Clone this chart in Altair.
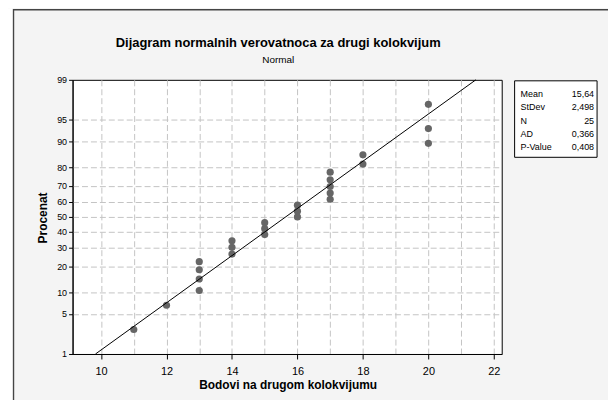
import altair as alt
import pandas as pd
from statistics import NormalDist

# ---- data ----
scores = [11, 12, 13, 13, 13, 13, 14, 14, 14, 15, 15, 15, 16, 16, 16,
          17, 17, 17, 17, 17, 18, 18, 20, 20, 20]
percent = [2.8, 6.7, 10.6, 14.6, 18.5, 22.4, 26.4, 30.3, 34.3, 38.2, 42.1, 46.1,
           50.0, 53.9, 57.9, 61.8, 65.7, 69.7, 73.6, 77.6, 81.5, 85.4, 89.4, 93.3, 97.2]
fit_x = [9.83, 21.45]
fit_p = [1, 99]
x_ticks = [10, 11, 12, 13, 14, 15, 16, 17, 18, 19, 20, 21, 22]
y_ticks_pct = [1, 5, 10, 20, 30, 40, 50, 60, 70, 80, 90, 95, 99]
stat_labels = ["Mean", "StDev", "N", "AD", "P-Value"]
stat_values = ["15,64", "2,498", "25", "0,366", "0,408"]
title_text = "Dijagram normalnih verovatnoca za drugi kolokvijum"
subtitle_text = "Normal"
x_title = "Bodovi na drugom kolokvijumu"
y_title = "Procenat"

nd = NormalDist()
y_tick_z = [nd.inv_cdf(p / 100) for p in y_ticks_pct]
z_lo, z_hi = nd.inv_cdf(0.01), nd.inv_cdf(0.99)

FONT = "Liberation Sans"
W, H = 432, 276
GRID = "#c4c4c4"

pts = pd.DataFrame({"x": scores, "p": percent})
fit = pd.DataFrame({"x": fit_x, "p": fit_p})
one = alt.Data(values=[{}])

xscale = alt.Scale(domain=[9.13, 22.24], nice=False, zero=False)
yscale = alt.Scale(domain=[z_lo, z_hi], nice=False, zero=False)

xaxis = alt.Axis(values=x_ticks, grid=True, gridDash=[6, 3], gridColor=GRID,
                 tickColor={"condition": {"test": "datum.value % 2 == 0", "value": "black"},
                            "value": "transparent"},
                 labelExpr="datum.value % 2 == 0 ? datum.label : ''",
                 labelOverlap=False,
                 tickSize=5, labelPadding=7, domainColor="black", title=None,
                 labelFont=FONT, labelFontSize=11, labelColor="black")
yaxis = alt.Axis(values=y_tick_z, grid=True, gridDash=[6, 3],
                 gridColor={"condition": {"test": "abs(datum.value) > 2.3", "value": "transparent"},
                            "value": GRID},
                 labelExpr="format(cumulativeNormal(datum.value)*100, '.0f')",
                 labelOverlap=False, labelBound=False, labelFlush=False,
                 tickSize=4, labelPadding=2, tickColor="black", domainColor="black",
                 title=None, labelFont=FONT, labelFontSize=9, labelColor="black")

points = alt.Chart(pts).transform_calculate(
    z="quantileNormal(datum.p/100)"
).mark_circle(size=52, color="#666666", opacity=1).encode(
    x=alt.X("x:Q", scale=xscale, axis=xaxis),
    y=alt.Y("z:Q", scale=yscale, axis=yaxis),
)

line = alt.Chart(fit).transform_calculate(
    z="quantileNormal(datum.p/100)"
).mark_line(color="black", strokeWidth=1).encode(
    x=alt.X("x:Q", scale=xscale, axis=xaxis),
    y=alt.Y("z:Q", scale=yscale, axis=yaxis),
)

frame = alt.Chart(one).mark_rect(filled=False, stroke="#444444", strokeWidth=1.5).encode(
    x=alt.value(-59.5), x2=alt.value(620), y=alt.value(-70.5), y2=alt.value(420))
strip = alt.Chart(one).mark_rect(fill="white").encode(
    x=alt.value(-66), x2=alt.value(-60.5), y=alt.value(-72), y2=alt.value(330))

box = alt.Chart(one).mark_rect(fill="white", stroke="black", strokeWidth=1).encode(
    x=alt.value(445), x2=alt.value(528), y=alt.value(1), y2=alt.value(78))
box_lab = alt.Chart(one).mark_text(align="left", baseline="alphabetic", font=FONT,
                                   fontSize=9, lineHeight=13.5, color="black").encode(
    x=alt.value(451), y=alt.value(17), text=alt.value(stat_labels))
box_val = alt.Chart(one).mark_text(align="right", baseline="alphabetic", font=FONT,
                                   fontSize=9, lineHeight=13.5, color="black").encode(
    x=alt.value(525), y=alt.value(17), text=alt.value(stat_values))

t1 = alt.Chart(one).mark_text(align="center", baseline="middle", font=FONT, fontSize=13,
                              fontWeight="bold", color="black").encode(
    x=alt.value(207), y=alt.value(-37), text=alt.value(title_text))
t2 = alt.Chart(one).mark_text(align="center", baseline="middle", font=FONT, fontSize=10,
                              color="black").encode(
    x=alt.value(207), y=alt.value(-20), text=alt.value(subtitle_text))
tx = alt.Chart(one).mark_text(align="center", baseline="middle", font=FONT, fontSize=12,
                              fontWeight="bold", color="black").encode(
    x=alt.value(217), y=alt.value(307), text=alt.value(x_title))
ty = alt.Chart(one).mark_text(align="center", baseline="middle", font=FONT, fontSize=12,
                              fontWeight="bold", color="black", angle=270).encode(
    x=alt.value(-30), y=alt.value(139), text=alt.value(y_title))

chart = alt.layer(points, line, frame, strip, box, box_lab, box_val, t1, t2, tx, ty).properties(
    width=W, height=H,
    autosize=alt.AutoSizeParams(type="none"),
    padding={"left": 65, "top": 71, "right": 107, "bottom": 45},
    background="#f4f4f4",
).configure_view(fill="white", stroke="black", strokeWidth=1)

chart.save("out.html", embed_options={"renderer": "svg", "actions": False})
